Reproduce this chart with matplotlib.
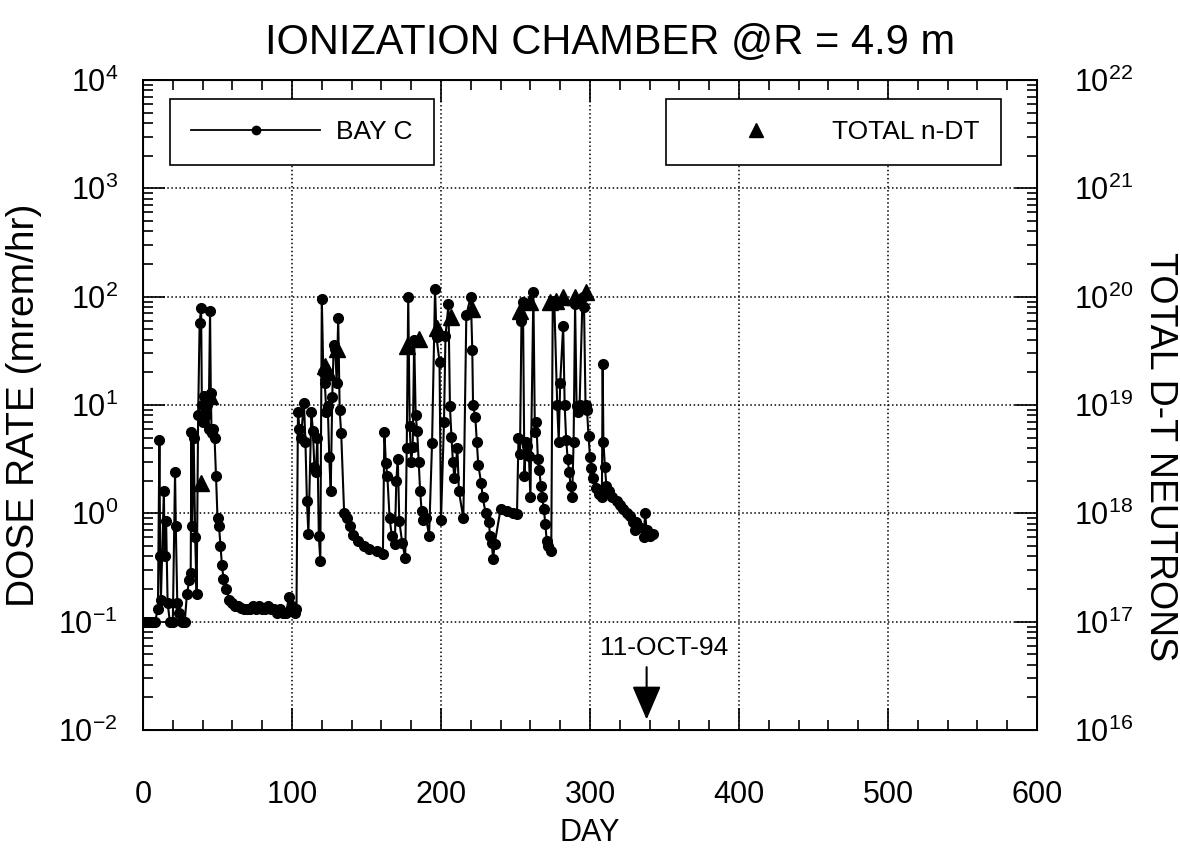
import matplotlib
matplotlib.use("Agg")
import matplotlib.pyplot as plt
from matplotlib.ticker import MultipleLocator, LogLocator, NullFormatter
from matplotlib.lines import Line2D

plt.rcParams["font.family"] = ["Liberation Sans", "DejaVu Sans"]
plt.rcParams["axes.unicode_minus"] = False

# ionization chamber readings (day, mrem/hr)
days = [0, 2, 4, 6, 8, 10, 11, 11.5, 12, 14, 14.5, 15.5, 16.5, 18, 20, 21.5, 22, 23, 24, 26,
        28, 29.5, 31, 32, 32.5, 33, 34, 35, 36, 37, 38, 39, 39.5, 40, 41, 42, 43, 44, 45, 45.5,
        46, 47, 48, 49, 50, 51, 52, 53, 54, 56, 58, 60, 62, 64, 66, 68, 70, 72, 74, 76,
        78, 80, 82, 84, 86, 88, 90, 92, 94, 96, 98, 100, 102, 103, 104, 105, 106, 108, 109, 110,
        111, 113, 114, 115, 116, 117, 118, 119, 120, 121, 122, 123, 124, 125, 126, 127, 128, 129, 130, 131,
        132, 133, 135, 137, 139, 141, 144, 148, 152, 157, 161, 162, 163, 164, 165.5, 167, 169, 170, 171, 172,
        174, 176, 177, 178, 179, 180, 181, 182, 183, 184, 185, 186, 187, 188, 190, 192, 194, 196, 197, 199,
        200, 202, 203, 205, 206, 207, 208, 209, 211, 212, 215, 217, 220, 221, 221.5, 223, 224, 225, 227, 228,
        230, 232, 233, 234, 235, 236, 240, 244, 248, 251, 252, 253, 254, 255, 256, 257, 258, 259, 260, 262,
        263, 264, 265, 266, 267, 268, 269, 270, 271, 272, 274, 275, 276, 278, 279, 280, 282, 283, 284, 285,
        286, 287, 288, 289, 290, 291, 292, 293, 295, 296, 297, 298, 299, 300, 301, 302, 304, 306, 308, 308.5,
        309, 310, 311, 313, 315, 318, 320, 322, 325, 327, 329, 330, 331, 333, 336, 337, 338, 340, 342]
dose = [0.1, 0.1, 0.1, 0.1, 0.1, 0.13, 4.7, 0.4, 0.16, 1.6, 0.4, 0.85, 0.15, 0.1, 0.1, 2.4, 0.77, 0.15, 0.12, 0.1,
        0.1, 0.18, 0.24, 0.28, 5.6, 0.77, 5.0, 0.6, 0.18, 8, 57, 78, 10, 7, 12, 8, 10, 6, 74, 13,
        5.5, 6, 5, 2.2, 0.9, 0.76, 0.5, 0.33, 0.25, 0.2, 0.16, 0.15, 0.14, 0.14, 0.135, 0.13, 0.13, 0.13, 0.14, 0.13,
        0.14, 0.13, 0.13, 0.14, 0.13, 0.13, 0.12, 0.13, 0.12, 0.12, 0.17, 0.14, 0.12, 0.13, 8.7, 6, 5, 10.5, 4.6, 1.3,
        0.65, 8.7, 5.8, 2.7, 2.4, 5, 0.62, 0.36, 95, 20, 16, 8.7, 9.8, 3.3, 1.6, 11.8, 36, 33, 16, 63,
        8.9, 5.5, 1.0, 0.9, 0.77, 0.63, 0.55, 0.5, 0.47, 0.45, 0.42, 5.6, 2.9, 2.2, 0.9, 0.62, 0.52, 2.0, 3.2, 0.85,
        0.53, 0.39, 4.0, 100, 6.4, 3.0, 4.1, 40, 8, 5.8, 3.0, 1.6, 1.05, 0.87, 0.9, 0.62, 4.5, 117, 42, 25,
        0.87, 6.9, 43, 85, 9.7, 5.1, 3.0, 2.1, 4.0, 1.6, 0.9, 68, 100, 32, 10, 7.8, 4.6, 2.8, 1.9, 1.4,
        1.0, 0.84, 0.62, 0.53, 0.38, 0.52, 1.1, 1.05, 1.0, 0.98, 5.0, 3.5, 60, 90, 2.2, 4.6, 4.2, 3.4, 1.4, 110,
        5.6, 7, 3.2, 2.5, 1.8, 1.4, 1.1, 0.8, 0.55, 0.5, 0.45, 90, 92, 10, 4.6, 16, 54, 10, 4.8, 3.2,
        2.4, 1.8, 1.4, 4.6, 86, 9.8, 8.6, 10, 100, 80, 10, 9, 5.2, 3.3, 2.6, 2.1, 1.7, 1.5, 1.4, 24,
        4.6, 2.7, 1.8, 1.6, 1.4, 1.3, 1.2, 1.1, 1.0, 0.95, 0.84, 0.7, 0.84, 0.75, 0.6, 1.0, 0.7, 0.62, 0.65]

# cumulative D-T neutrons
n_days = [39, 45, 122, 124, 130, 177, 185, 197, 207, 221, 253, 260, 273, 277, 282, 290, 297]
n_total = [1.9e18, 1.2e19, 2.3e19, 2.0e19, 3.3e19, 3.5e19, 4.1e19, 5.1e19, 6.5e19, 7.7e19,
           7.4e19, 9.0e19, 9.0e19, 9.2e19, 1.0e20, 1.0e20, 1.1e20]

fig = plt.figure(figsize=(11.8, 8.57), dpi=100)
ax = fig.add_axes([0.1212, 0.1482, 0.7576, 0.7585])
ax2 = ax.twinx()

ax.plot(days, dose, color="black", lw=1.5, marker="o", ms=7, label="BAY C")
ax2.plot(n_days, n_total, ls="none", color="black", marker="^", ms=12, label="TOTAL n-DT")

ax.set_xlim(0, 600)
ax.set_yscale("log")
ax.set_ylim(1e-2, 1e4)
ax2.set_yscale("log")
ax2.set_ylim(1e16, 1e22)

ax.xaxis.set_major_locator(MultipleLocator(100))
ax.xaxis.set_minor_locator(MultipleLocator(20))
for a in (ax, ax2):
    a.yaxis.set_major_locator(LogLocator(base=10, numticks=10))
    a.yaxis.set_minor_locator(LogLocator(base=10, subs=range(2, 10), numticks=100))
    a.yaxis.set_minor_formatter(NullFormatter())

ax.grid(True, which="major", ls=":", color="black", lw=1.1)
ax.tick_params(which="both", direction="in", top=True, right=False, labelsize=22, width=1.2)
ax.tick_params(which="major", length=16)
ax.tick_params(which="minor", length=7)
ax.tick_params(axis="x", pad=36)
ax.tick_params(axis="y", pad=18)
ax2.tick_params(which="both", direction="in", labelsize=22, width=1.2, pad=27)
ax2.tick_params(which="major", length=16)
ax2.tick_params(which="minor", length=7)
for s in ax.spines.values():
    s.set_linewidth(1.4)

ax.set_xlabel("DAY", fontsize=22, labelpad=6)
ax.set_ylabel("DOSE RATE (mrem/hr)", fontsize=28, labelpad=12)
ax2.set_ylabel("TOTAL D-T NEUTRONS", fontsize=27, rotation=-90, va="center", ha="center")
ax2.yaxis.set_label_coords(1.1376, 0.42)
fig.text(0.517, 0.95, "IONIZATION CHAMBER @R = 4.9 m", fontsize=30, ha="center", va="center")

h1 = Line2D([], [], color="black", lw=1.3, marker="o", ms=6)
leg1 = ax.legend([h1], ["BAY C"], loc="upper left", bbox_to_anchor=(0.030, 0.971),
                 borderaxespad=0, fontsize=19, handlelength=4.9, handletextpad=0.6,
                 borderpad=0.8, fancybox=False, edgecolor="black", framealpha=1)
leg1.get_frame().set_linewidth(1.2)
h2 = Line2D([], [], ls="none", color="black", marker="^", ms=10)
leg2 = ax2.legend([h2], ["TOTAL n-DT"], loc="upper left", bbox_to_anchor=(0.585, 0.971),
                  borderaxespad=0, fontsize=19, handlelength=5.2, handletextpad=0.3,
                  borderpad=0.8, fancybox=False, edgecolor="black", framealpha=1)
leg2.get_frame().set_linewidth(1.2)

ax.annotate("", xy=(338, 0.0125), xytext=(338, 0.038),
            arrowprops=dict(arrowstyle="-|>,head_length=1.4,head_width=0.6", mutation_scale=15,
                            color="black", lw=1.5, shrinkA=0, shrinkB=0))
ax.text(350, 0.057, "11-OCT-94", fontsize=19, ha="center", va="center")

fig.savefig("out.png", dpi=100)
